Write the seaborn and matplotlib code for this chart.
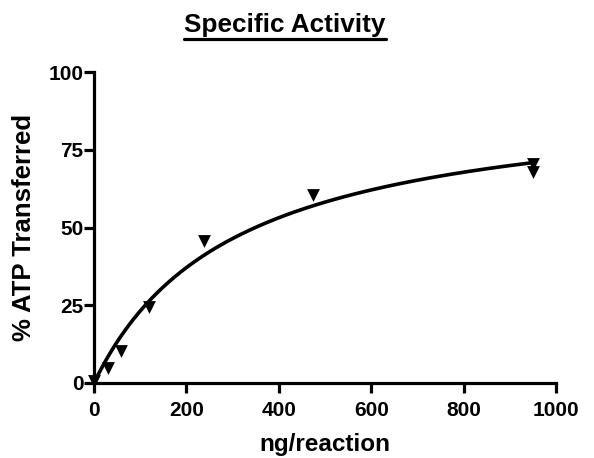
import numpy as np
import pandas as pd
import matplotlib
matplotlib.use("Agg")
import matplotlib.pyplot as plt
from matplotlib.lines import Line2D
import seaborn as sns

# data
ng_per_reaction = [0, 30, 59, 119, 238, 475, 950, 950]
pct_atp = [0.5, 4.8, 10.3, 24.5, 45.5, 60.5, 68.0, 70.5]
x_ticks = [0, 200, 400, 600, 800, 1000]
y_ticks = [0, 25, 50, 75, 100]

sns.set_style("ticks", {"axes.edgecolor": "black", "text.color": "black",
                        "axes.labelcolor": "black", "xtick.color": "black",
                        "ytick.color": "black"})
plt.rcParams["font.family"] = ["Liberation Sans", "DejaVu Sans"]
plt.rcParams["font.weight"] = "bold"

df = pd.DataFrame({"ng": ng_per_reaction, "pct": pct_atp})

# one-site hyperbola fit (Y = Bmax*X/(Kd+X)), Bmax closed form per Kd
x = df["ng"].to_numpy(float)
y = df["pct"].to_numpy(float)
best = None
for kd in np.linspace(10, 2000, 4000):
    g = x / (kd + x)
    bmax = (g @ y) / (g @ g)
    sse = ((y - bmax * g) ** 2).sum()
    if best is None or sse < best[0]:
        best = (sse, bmax, kd)
_, bmax, kd = best
xs = np.linspace(0, x.max(), 300)
fit = pd.DataFrame({"ng": xs, "pct": bmax * xs / (kd + xs)})

fig = plt.figure(figsize=(5.94, 4.58), dpi=100)
ax = fig.add_axes([94 / 594, 75 / 458, 462 / 594, 311 / 458])

sns.lineplot(data=fit, x="ng", y="pct", ax=ax, color="black", linewidth=2.6,
             clip_on=False)
sns.scatterplot(data=df, x="ng", y="pct", ax=ax, marker="v", color="black",
                s=85, edgecolor="black", linewidth=0, clip_on=False, zorder=5)

ax.set_xlim(0, 1000)
ax.set_ylim(0, 100)
ax.set_xticks(x_ticks)
ax.set_yticks(y_ticks)
for s in ["top", "right"]:
    ax.spines[s].set_visible(False)
for s in ["left", "bottom"]:
    ax.spines[s].set_linewidth(2.3)
    ax.spines[s].set_capstyle("projecting")
ax.tick_params(axis="both", width=2.3, length=7, labelsize=15, colors="black")
ax.tick_params(axis="x", pad=6)
ax.tick_params(axis="y", pad=0.5)
for lab in ax.get_xticklabels() + ax.get_yticklabels():
    lab.set_fontweight("bold")

ax.set_xlabel("ng/reaction", fontsize=17.5, fontweight="bold", labelpad=9)
ax.set_ylabel("% ATP Transferred", fontsize=18.5, fontweight="bold", labelpad=9)

t = fig.text(285 / 594, 1 - 32 / 458, "Specific Activity", ha="center",
             va="baseline", fontsize=18.8, fontweight="bold")
fig.canvas.draw()
bb = t.get_window_extent().transformed(fig.transFigure.inverted())
fig.add_artist(Line2D([bb.x0, bb.x1], [1 - 39 / 458] * 2, color="black",
                      linewidth=2.3, transform=fig.transFigure))

fig.savefig("out.png", dpi=100)
